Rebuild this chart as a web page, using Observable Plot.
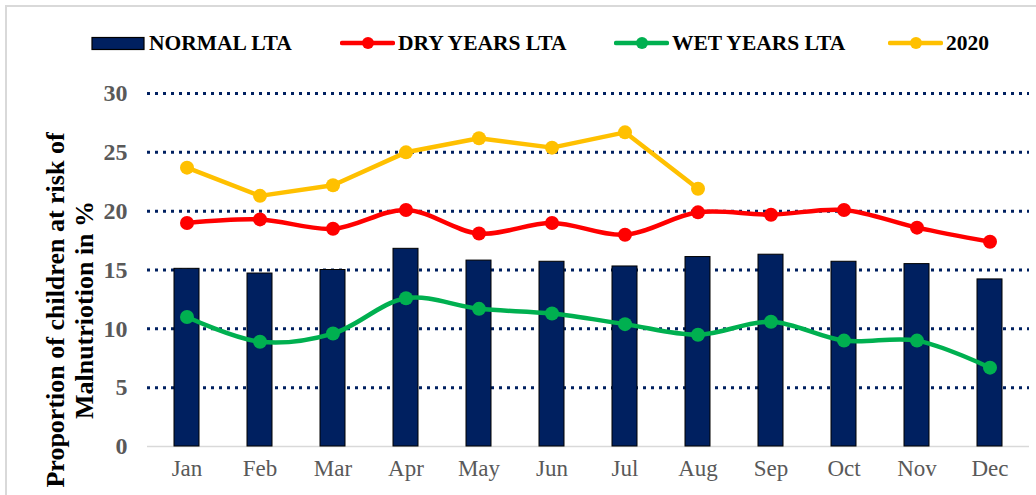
<!DOCTYPE html>
<html><head><meta charset="utf-8">
<script src="https://cdn.jsdelivr.net/npm/d3@7"></script>
<script src="https://cdn.jsdelivr.net/npm/@observablehq/plot@0.6"></script>
<style>
html,body{margin:0;padding:0;background:#fff;}
#wrap{position:relative;width:1036px;height:495px;overflow:hidden;font-family:"Liberation Serif","Times New Roman",serif;}
#frame{position:absolute;left:5px;top:5px;width:1100px;height:600px;border:2px solid #d9d9d9;box-sizing:border-box;}
#legend{position:absolute;left:0;top:0;width:1036px;height:70px;}
.item{position:absolute;top:31px;height:24px;display:flex;align-items:center;font-weight:bold;font-size:21.5px;color:#000;white-space:nowrap;}
.item svg{margin-right:3px;}
#chart{position:absolute;left:0;top:70px;}
</style></head>
<body>
<div id="wrap">
  <div id="frame"></div>
  <div id="legend"></div>
  <div id="chart"></div>
</div>
<script>
const months = ["Jan","Feb","Mar","Apr","May","Jun","Jul","Aug","Sep","Oct","Nov","Dec"];
const normalLTA = [15.1,14.7,15.0,16.8,15.8,15.7,15.3,16.1,16.3,15.7,15.5,14.2];
const dryLTA = [19.0,19.3,18.5,20.1,18.1,19.0,18.0,19.9,19.7,20.1,18.6,17.4];
const wetLTA = [11.0,8.9,9.6,12.6,11.7,11.3,10.4,9.5,10.6,9.0,9.0,6.7];
const y2020 = [23.7,21.3,22.2,25.0,26.2,25.4,26.7,21.9];
const yTicks = [0,5,10,15,20,25,30];
const gridTicks = [5,10,15,20,25,30];
const seriesNames = ["NORMAL LTA","DRY YEARS LTA","WET YEARS LTA","2020"];
const colors = {"NORMAL LTA":"#002060","DRY YEARS LTA":"#ff0000","WET YEARS LTA":"#00b050","2020":"#ffc000"};

const bars = months.map((m,i)=>({month:m, value:normalLTA[i]}));
const dry = months.map((m,i)=>({month:m, value:dryLTA[i]}));
const wet = months.map((m,i)=>({month:m, value:wetLTA[i]}));
const cur = y2020.map((v,i)=>({month:months[i], value:v}));

const chart = Plot.plot({
  width: 1036,
  height: 425,
  marginTop: 23,
  marginBottom: 49,
  marginLeft: 147,
  marginRight: 7,
  style: {fontFamily:"'Liberation Serif','Times New Roman',serif", background:"transparent"},
  x: {domain: months, paddingInner: 0.66, paddingOuter: 0.33, label: null, axis: null},
  y: {domain: [0,30], label: null, axis: null},
  marks: [
    Plot.ruleY(gridTicks, {stroke:"#002060", strokeWidth:3, strokeDasharray:"3,5"}),
    Plot.ruleY([0], {stroke:"#d9d9d9", strokeWidth:1.5}),
    Plot.barY(bars, {x:"month", y:"value", fill:colors["NORMAL LTA"], stroke:"#000", strokeWidth:1}),
    Plot.line(wet, {x:"month", y:"value", stroke:colors["WET YEARS LTA"], strokeWidth:4.5, curve:"catmull-rom"}),
    Plot.dot(wet, {x:"month", y:"value", fill:colors["WET YEARS LTA"], r:7}),
    Plot.line(dry, {x:"month", y:"value", stroke:colors["DRY YEARS LTA"], strokeWidth:4.5, curve:"catmull-rom"}),
    Plot.dot(dry, {x:"month", y:"value", fill:colors["DRY YEARS LTA"], r:7}),
    Plot.line(cur, {x:"month", y:"value", stroke:colors["2020"], strokeWidth:4.5}),
    Plot.dot(cur, {x:"month", y:"value", fill:colors["2020"], r:7}),
    Plot.text(yTicks, {y: d=>d, text: d=>String(d), frameAnchor:"left", textAnchor:"end", dx:-20,
      fontSize:24, fontWeight:"bold", fill:"#595959"}),
    Plot.text(months, {x: d=>d, text: d=>d, frameAnchor:"bottom", dy:29, fontSize:23, fill:"#595959"})
  ]
});
document.getElementById("chart").appendChild(chart);

const svg = d3.select(chart);

// y-axis title (two lines, rotated)
const ylab = svg.append("text")
  .attr("transform","translate(70,240) rotate(-90)")
  .attr("text-anchor","middle")
  .attr("font-family","'Liberation Serif','Times New Roman',serif")
  .attr("font-size",26).attr("font-weight","bold").attr("fill","#000");
ylab.append("tspan").attr("x",0).attr("dy","-0.25em").text("Proportion of children at risk of");
ylab.append("tspan").attr("x",0).attr("dy","1.15em").text("Malnutriotion in %");

// legend
const legendX = {"NORMAL LTA":91,"DRY YEARS LTA":340,"WET YEARS LTA":614,"2020":888};
const lg = d3.select("#legend");
seriesNames.forEach(name=>{
  const it = lg.append("div").attr("class","item").style("left",legendX[name]+"px");
  const s = it.append("svg").attr("width",55).attr("height",24);
  if(name==="NORMAL LTA"){
    s.append("rect").attr("x",1).attr("y",6.5).attr("width",52).attr("height",12)
      .attr("fill",colors[name]).attr("stroke","#000").attr("stroke-width",1.2);
  } else {
    s.append("line").attr("x1",2).attr("x2",53).attr("y1",12).attr("y2",12)
      .attr("stroke",colors[name]).attr("stroke-width",4.5).attr("stroke-linecap","round");
    s.append("circle").attr("cx",28).attr("cy",12).attr("r",6).attr("fill",colors[name]);
  }
  it.append("span").text(name);
});
</script>
</body></html>
